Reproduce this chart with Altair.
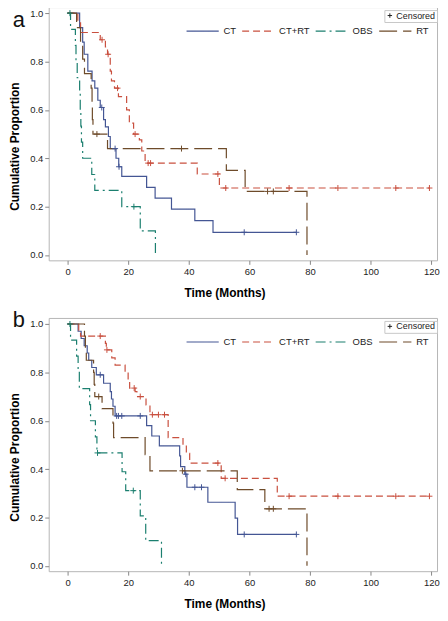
import altair as alt
import pandas as pd
import numpy as np

GROUPS = ["CT", "CT+RT", "OBS", "RT"]
COLORS = ["#445694", "#C9503F", "#1B7F6F", "#6E4B2A"]
DASHES = [[1, 0], [7, 4], [10, 4, 2, 4], [18, 6]]
X_TICKS = [0, 20, 40, 60, 80, 100, 120]
Y_TICKS = [0.0, 0.2, 0.4, 0.6, 0.8, 1.0]

# ---------- panel a ----------
a_ct_t = [0, 4, 5, 5.5, 6.7, 8.1, 9, 10, 10.8, 11.9, 12.5, 13.5, 14.1, 16, 16.9, 17.9, 26.1, 28.9, 34.3, 42, 48, 75.5]
a_ct_s = [1, .94, .88, .83, .76, .72, .69, .64, .61, .56, .53, .49, .44, .40, .365, .325, .28, .235, .19, .142, .094, .094]
a_ct_c = [11.3, 15.7, 17.0, 58.3, 75.5]

a_ctrt_t = [0, 3.4, 4.3, 10.8, 12.5, 13.2, 14.1, 14.5, 15.5, 16.8, 19.5, 20.4, 21.8, 23.7, 24.5, 25.6, 42.8, 50.1, 119.4]
a_ctrt_s = [1, .96, .92, .89, .86, .83, .76, .72, .69, .655, .60, .545, .50, .476, .43, .38, .335, .277, .277]
a_ctrt_c = [11.4, 13.4, 16.5, 22.3, 26.6, 27.4, 49.6, 52.2, 73.1, 89.2, 108.3, 119.4]

a_obs_t = [0, 1, 2.6, 2.8, 3.2, 4, 4.2, 4.4, 4.6, 5.0, 8.0, 9.0, 17.9, 24, 29]
a_obs_s = [1, .933, .867, .8, .733, .667, .6, .533, .467, .4, .333, .267, .2, .1, 0]
a_obs_c = [0.8, 21.9]

a_rt_t = [0, 3, 4.3, 5, 5.6, 7.8, 8.1, 8.2, 8.4, 13.2, 52.4, 58.6, 79]
a_rt_s = [1, .94, .88, .81, .75, .69, .63, .56, .5, .44, .35, .263, 0]
a_rt_c = [9.7, 37.6, 66.0, 67.9]

# ---------- panel b ----------
b_ct_t = [0, 3.5, 4.5, 5.5, 6.5, 7, 8, 9.5, 11.9, 14.1, 14.5, 15, 15.7, 26.1, 27.8, 30.3, 37, 37.3, 38.7, 39.4, 46.3, 55.3, 56.1, 75.5]
b_ct_s = [1, .97, .94, .91, .88, .85, .82, .79, .755, .72, .69, .66, .62, .58, .537, .496, .455, .41, .379, .325, .263, .197, .13, .13]
b_ct_c = [10.8, 16.2, 16.8, 17.9, 24.0, 39.0, 42.0, 44.2, 58.3, 75.5]

b_ctrt_t = [0, 3.7, 4.3, 12.5, 12.8, 14.6, 15.7, 19, 20, 20.5, 22.3, 22.9, 25.9, 27.2, 33.2, 38.1, 39.2, 40.3, 50.7, 69.2, 119.4]
b_ctrt_s = [1, .975, .95, .92, .893, .86, .83, .80, .77, .735, .72, .70, .665, .625, .53, .50, .465, .425, .362, .288, .288]
b_ctrt_c = [10.8, 13.0, 22.0, 24.0, 28.0, 30.0, 32.0, 49.6, 52.0, 73.1, 89.2, 108.3, 119.4]

b_obs_t = [0, 1, 3, 3.5, 3.9, 7.3, 7.6, 9.2, 9.7, 18, 19.2, 24, 25.8, 31]
b_obs_s = [1, .933, .867, .8, .733, .667, .6, .533, .467, .389, .311, .207, .104, 0]
b_obs_c = [0.8, 9.9, 21.7]

b_rt_t = [0, 5.6, 5.9, 6.2, 8.6, 8.8, 9, 11.4, 15, 15.2, 25.6, 27.2, 56, 65.1, 79]
b_rt_s = [1, .95, .9, .85, .8, .75, .70, .65, .59, .53, .46, .393, .315, .236, 0]
b_rt_c = [10.3, 37.9, 66.5, 67.9]

PANEL_A = {"CT": (a_ct_t, a_ct_s, a_ct_c), "CT+RT": (a_ctrt_t, a_ctrt_s, a_ctrt_c),
           "OBS": (a_obs_t, a_obs_s, a_obs_c), "RT": (a_rt_t, a_rt_s, a_rt_c)}
PANEL_B = {"CT": (b_ct_t, b_ct_s, b_ct_c), "CT+RT": (b_ctrt_t, b_ctrt_s, b_ctrt_c),
           "OBS": (b_obs_t, b_obs_s, b_obs_c), "RT": (b_rt_t, b_rt_s, b_rt_c)}

PLUS = "M-1,0L1,0M0,-1L0,1"
FONT = "Liberation Sans"


def step_value(ts, ss, t):
    idx = np.searchsorted(np.array(ts), t, side="right") - 1
    return ss[max(idx, 0)]


def build(panel):
    lines, cens = [], []
    for g in GROUPS:
        ts, ss, cs = panel[g]
        for i, (t, s) in enumerate(zip(ts, ss)):
            lines.append({"group": g, "t": t, "s": s, "o": i})
        col = COLORS[GROUPS.index(g)]
        for c in cs:
            cens.append({"group": g, "t": c, "s": step_value(ts, ss, c), "col": col, "lab": "Censored"})
    return pd.DataFrame(lines), pd.DataFrame(cens)


xs = alt.Scale(domain=[-6.2, 121.9], nice=False, zero=False)
ys = alt.Scale(domain=[-0.022, 1.025], nice=False, zero=False)
xaxis = alt.Axis(values=X_TICKS, title="Time (Months)", grid=False, domain=False,
                 tickSize=4, tickColor="#888", labelPadding=2, labelFontSize=9.5,
                 labelColor="#222", titleFontSize=12, titleFontWeight="bold",
                 titlePadding=12, titleX=177, titleAnchor="start", titleAlign="center")
yaxis = alt.Axis(values=Y_TICKS, format=".1f", title="Cumulative Proportion", grid=False,
                 domain=False, tickSize=4, tickColor="#888", labelPadding=2,
                 labelFontSize=9.5, labelColor="#222", titleFontSize=12,
                 titleFontWeight="bold", titlePadding=8, titleY=140, titleAlign="center")


def panel(data, letter, letter_y):
    dl, dc = build(data)
    leg = alt.Legend(title=None, orient="none", legendX=138, legendY=7, direction="horizontal",
                     symbolType="stroke", symbolSize=1050, symbolStrokeWidth=1.2,
                     labelFontSize=9.5, labelColor="#222", labelOffset=4, columnPadding=3,
                     columns=4, padding=0)
    lines = alt.Chart(dl).mark_line(interpolate="step-after", strokeWidth=1.2).encode(
        x=alt.X("t:Q", scale=xs, axis=xaxis),
        y=alt.Y("s:Q", scale=ys, axis=yaxis),
        order="o:Q",
        color=alt.Color("group:N", scale=alt.Scale(domain=GROUPS, range=COLORS), legend=leg),
        strokeDash=alt.StrokeDash("group:N", scale=alt.Scale(domain=GROUPS, range=DASHES), legend=leg),
    )
    pts = alt.Chart(dc).mark_point(filled=False, size=36, strokeWidth=1, opacity=1).encode(
        x=alt.X("t:Q", scale=xs),
        y=alt.Y("s:Q", scale=ys),
        color=alt.Color("col:N", scale=None),
        shape=alt.Shape("lab:N", scale=alt.Scale(domain=["Censored"], range=[PLUS]),
                        legend=alt.Legend(title=None, orient="none", legendX=338, legendY=3,
                                          strokeColor="#c8c8c8", padding=1, symbolSize=20,
                                          symbolStrokeColor="#222", symbolStrokeWidth=1,
                                          labelFontSize=9, labelColor="#222", labelOffset=2)),
    )
    txt = alt.Chart(pd.DataFrame({"lab": [letter]})).mark_text(
        fontSize=22, font=FONT, align="center", baseline="alphabetic", color="#111"
    ).encode(text="lab:N", x=alt.value(-30), y=alt.value(letter_y))
    return alt.layer(lines, pts, txt).properties(width=391, height=255)


chart = alt.vconcat(panel(PANEL_A, "a", 20), panel(PANEL_B, "b", 9), spacing=9).resolve_scale(
    color="independent", strokeDash="independent", shape="independent"
).resolve_legend(color="independent", strokeDash="independent", shape="independent").properties(
    padding={"left": 0, "top": -4, "right": 0, "bottom": 0}
).configure(font=FONT).configure_view(stroke="#b5b5b5", strokeWidth=1)

chart.save("out.html", embed_options={"renderer": "svg", "actions": False})
